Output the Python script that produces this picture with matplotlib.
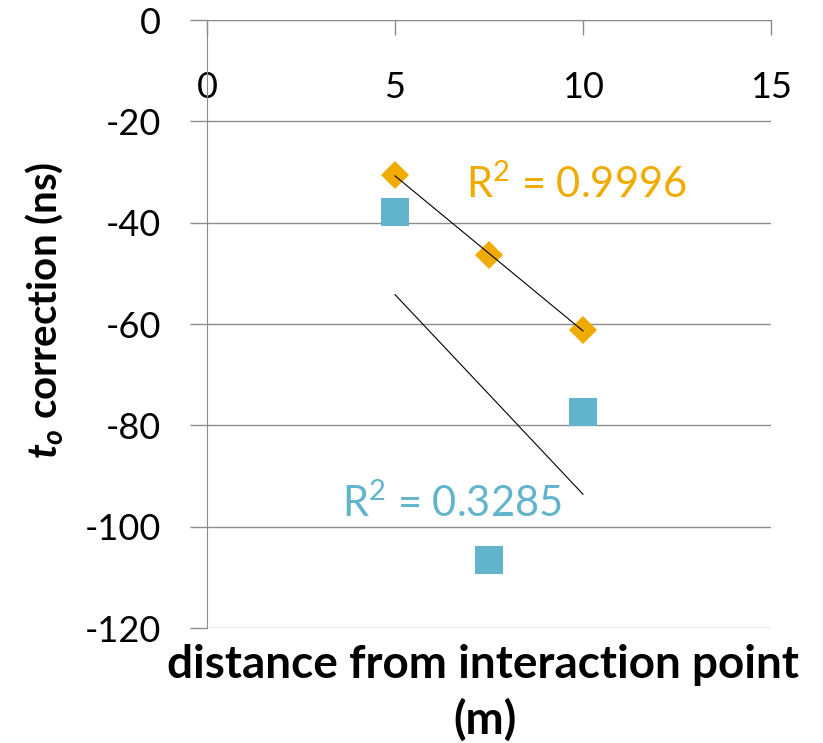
import numpy as np
import matplotlib
matplotlib.use("Agg")
import matplotlib.pyplot as plt

# data
distance = [5, 7.5, 10]
t0_orange = [-30.6, -46.4, -61.2]
t0_blue = [-37.9, -106.5, -77.3]
r2_orange = r"R$^{2}$ = 0.9996"
r2_blue = r"R$^{2}$ = 0.3285"

x_ticks = [0, 5, 10, 15]
y_ticks = [0, -20, -40, -60, -80, -100, -120]

orange = "#F0AB00"
blue = "#62B4CC"
grey = "#8C8C8C"

plt.rcParams["font.family"] = ["Lato", "DejaVu Sans"]
plt.rcParams["mathtext.fontset"] = "custom"
plt.rcParams["mathtext.it"] = "Lato:italic:bold"
plt.rcParams["mathtext.rm"] = "Lato"

fig = plt.figure(figsize=(8.23, 7.43), dpi=100)
ax = fig.add_axes([207/823, 115/743, 564/823, 608/743])

# series
ax.plot(distance, t0_orange, "D", color=orange, markersize=14, markeredgewidth=0, zorder=3)
ax.plot(distance, t0_blue, "s", color=blue, markersize=20, markeredgewidth=0, zorder=3)

# linear trendlines
xs = np.array([distance[0], distance[-1]])
for ys in (t0_orange, t0_blue):
    k, b = np.polyfit(distance, ys, 1)
    ax.plot(xs, k*xs + b, color="black", lw=0.8, zorder=4)

ax.text(6.9, -32.5, r2_orange, color=orange, fontsize=30, va="center", ha="left")
ax.text(3.6, -95.5, r2_blue, color=blue, fontsize=30, va="center", ha="left")

# axes
ax.set_xlim(0, 15)
ax.set_ylim(-120, 0)
ax.set_xticks(x_ticks)
ax.set_yticks(y_ticks)
ax.set_yticklabels([str(v) for v in y_ticks])
ax.yaxis.grid(True, color=grey, lw=1.0)
ax.set_axisbelow(True)

for s in ("top", "right"):
    ax.spines[s].set_visible(False)
ax.spines["bottom"].set_position(("data", 0))
ax.spines["bottom"].set_color(grey)
ax.spines["left"].set_color(grey)

ax.tick_params(axis="y", direction="out", length=12.2, width=1.0, color=grey,
               pad=21, labelsize=26)
ax.tick_params(axis="x", direction="out", length=10.8, width=1.0, color=grey,
               pad=26, labelsize=26)

# axis titles
fig.text(44/823, 1 - 310/743, r"$t_o$ correction (ns)", fontsize=29,
         fontweight="bold", rotation=90, ha="center", va="center")
fig.text(483/823, 1 - 665/743, "distance from interaction point", fontsize=33,
         fontweight="bold", ha="center", va="center")
fig.text(485/823, 1 - 720/743, "(m)", fontsize=33, fontweight="bold",
         ha="center", va="center")

fig.savefig("out.png", dpi=100, facecolor="white")
